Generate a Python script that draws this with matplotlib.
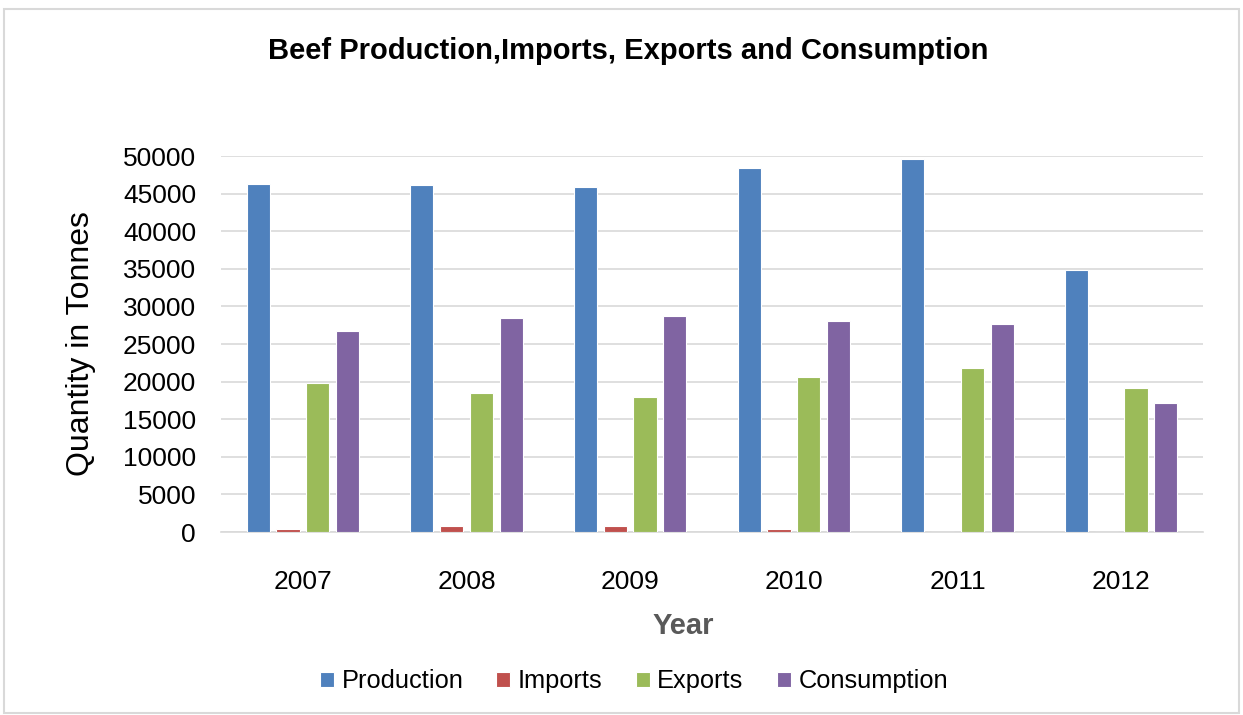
import matplotlib
matplotlib.use("Agg")
import matplotlib.pyplot as plt
import numpy as np
from matplotlib.patches import Rectangle

plt.rcParams["font.family"] = ["Liberation Sans", "DejaVu Sans"]

# ─── data (tonnes) ──────────────────────────────────────────────────
years = ["2007", "2008", "2009", "2010", "2011", "2012"]
production = [46300, 46100, 45900, 48400, 49600, 34800]
imports = [400, 800, 800, 400, 0, 0]
exports = [19800, 18500, 18000, 20600, 21800, 19100]
consumption = [26700, 28500, 28700, 28100, 27700, 17100]

series = [
    ("Production", production, "#4F81BD"),
    ("Imports", imports, "#C0504D"),
    ("Exports", exports, "#9BBB59"),
    ("Consumption", consumption, "#8064A2"),
]

fig = plt.figure(figsize=(12.43, 7.15), dpi=100)
ax = fig.add_axes([0.1778, 0.2559, 0.79, 0.5259])

xs = np.arange(len(years))
slot = 0.182
width = 0.142
for i, (name, vals, col) in enumerate(series):
    ax.bar(xs + (i - 1.5) * slot, vals, width, color=col, edgecolor="white",
           linewidth=0.8, label=name, zorder=3)

ax.set_xlim(-0.5, len(years) - 0.5)
ax.set_ylim(0, 50000)
ax.set_yticks(range(0, 50001, 5000))
ax.set_xticks(xs)
ax.set_xticklabels(years)
ax.tick_params(axis="y", length=0, labelsize=19, pad=18)
ax.tick_params(axis="x", length=0, labelsize=19, pad=27)
ax.grid(axis="y", color="#d9d9d9", linewidth=1.2, zorder=0)
for s in ["top", "right", "left"]:
    ax.spines[s].set_visible(False)
ax.spines["bottom"].set_color("#d9d9d9")
ax.spines["bottom"].set_linewidth(1.2)

ax.set_ylabel("Quantity in Tonnes", fontsize=23)
ax.yaxis.set_label_coords(-0.127, 0.5)

fig.text(0.505, 0.928, "Beef Production,Imports, Exports and Consumption",
         ha="center", va="center", fontsize=21, fontweight="bold")
fig.text(0.550, 0.124, "Year", ha="center", va="center", fontsize=21,
         fontweight="bold", color="#595959")

fig.legend(loc="center", bbox_to_anchor=(0.51, 0.047), ncol=4, frameon=False,
           fontsize=18.3, handlelength=0.55, handleheight=0.55, handletextpad=0.3,
           columnspacing=1.3)

# light frame around the chart area
fig.patches.append(Rectangle((0.003, 0.003), 0.994, 0.985, transform=fig.transFigure,
                             fill=False, edgecolor="#d9d9d9", linewidth=1.5))

fig.savefig("out.png", dpi=100, facecolor="white")
